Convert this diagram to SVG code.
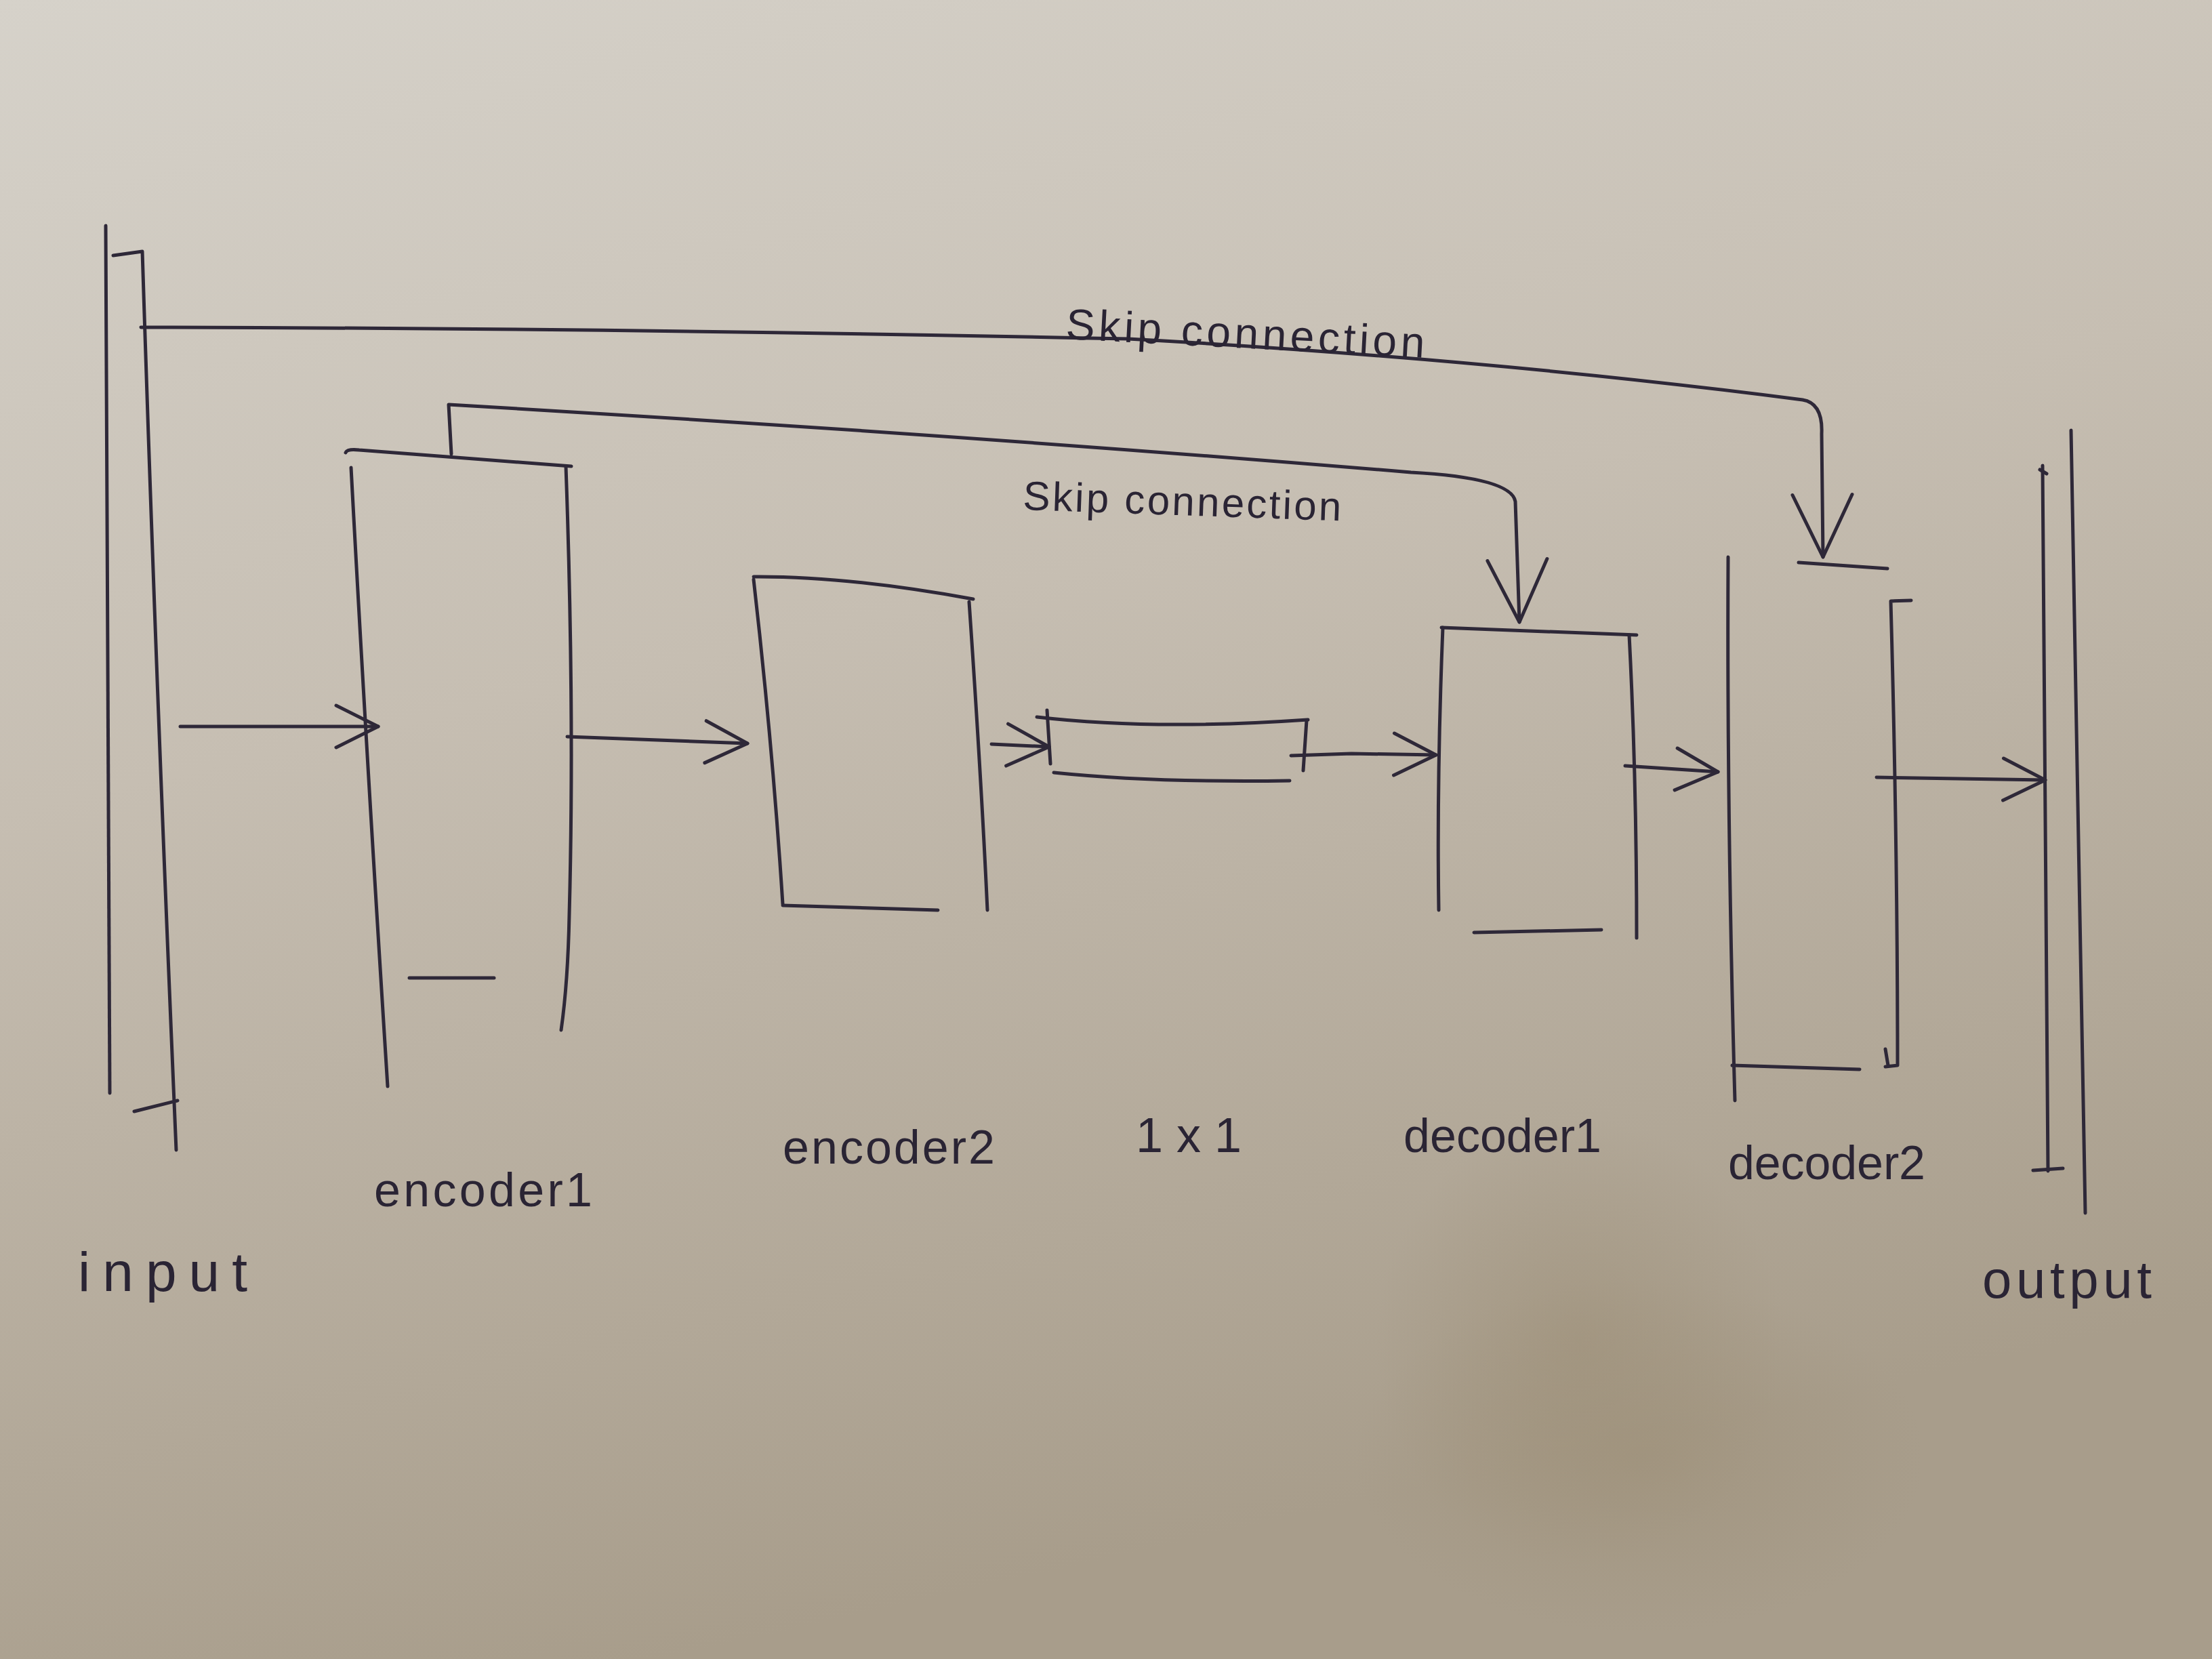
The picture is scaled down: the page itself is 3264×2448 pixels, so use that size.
<svg xmlns="http://www.w3.org/2000/svg" width="3264" height="2448" viewBox="0 0 3264 2448">
<defs>
<linearGradient id="paper" x1="0" y1="0" x2="0.3" y2="1">
<stop offset="0" stop-color="#d6d2ca"/>
<stop offset="0.45" stop-color="#c6beb2"/>
<stop offset="1" stop-color="#a89d8b"/>
</linearGradient>
<radialGradient id="stain" cx="0.5" cy="0.5" r="0.5">
<stop offset="0" stop-color="#9c8e76" stop-opacity="0.5"/>
<stop offset="1" stop-color="#9c8e76" stop-opacity="0"/>
</radialGradient>
<marker id="arrow" viewBox="0 0 70 70" refX="66" refY="35" markerWidth="70" markerHeight="70" markerUnits="userSpaceOnUse" orient="auto">
<path d="M4,4 L66,35 L4,66" fill="none" stroke="#2e2838" stroke-width="5" stroke-linecap="round" stroke-linejoin="round"/>
</marker>
<marker id="bigarrow" viewBox="0 0 100 100" refX="96" refY="50" markerWidth="100" markerHeight="100" markerUnits="userSpaceOnUse" orient="auto">
<path d="M4,6 L96,50 L4,94" fill="none" stroke="#2e2838" stroke-width="5" stroke-linecap="round" stroke-linejoin="round"/>
</marker>
</defs>
<style>
.ink{fill:none;stroke:#2e2838;stroke-width:5;stroke-linecap:round;stroke-linejoin:round}
.lbl{font-family:"Liberation Sans","DejaVu Sans",sans-serif;fill:#2a2434;font-weight:normal}
</style>
<rect x="0" y="0" width="3264" height="2448" fill="url(#paper)"/>
<ellipse cx="2330" cy="1980" rx="300" ry="330" fill="url(#stain)"/>
<ellipse cx="2420" cy="2150" rx="420" ry="260" fill="url(#stain)"/>

<g id="input">
<path class="ink" d="M156,333 L162,1613"/>
<path class="ink" d="M167,377 L210,371 Q230,1000 260,1697"/>
<path class="ink" d="M198,1640 L262,1624"/>
<text class="lbl" x="115" y="1905" font-size="82" textLength="250">input</text>
</g>

<g id="encoder1">
<path class="ink" d="M510,668 Q512,662 530,664 L843,688"/>
<path class="ink" d="M518,690 Q540,1100 572,1603"/>
<path class="ink" d="M835,688 Q848,1050 840,1350 Q838,1450 828,1520"/>
<path class="ink" d="M604,1443 L729,1443"/>
<text class="lbl" x="552" y="1780" font-size="70" textLength="322">encoder1</text>
</g>

<g id="encoder2">
<path class="ink" d="M1112,851 Q1250,850 1436,884"/>
<path class="ink" d="M1112,855 Q1140,1100 1155,1334"/>
<path class="ink" d="M1430,888 Q1448,1150 1457,1343"/>
<path class="ink" d="M1155,1336 L1384,1343"/>
<text class="lbl" x="1155" y="1717" font-size="70" textLength="313">encoder2</text>
</g>

<g id="conv1x1">
<path class="ink" d="M1530,1058 Q1700,1078 1930,1062"/>
<path class="ink" d="M1545,1048 L1550,1127"/>
<path class="ink" d="M1555,1140 Q1700,1155 1903,1152"/>
<path class="ink" d="M1928,1063 L1923,1137"/>
<text class="lbl" x="1676" y="1700" font-size="72" textLength="156">1x1</text>
</g>

<g id="decoder1">
<path class="ink" d="M2127,926 L2415,937"/>
<path class="ink" d="M2129,926 Q2120,1150 2123,1343"/>
<path class="ink" d="M2404,937 Q2415,1150 2415,1384"/>
<path class="ink" d="M2175,1376 L2363,1372"/>
<text class="lbl" x="2071" y="1700" font-size="70" textLength="292">decoder1</text>
</g>

<g id="decoder2">
<path class="ink" d="M2654,830 L2785,839"/>
<path class="ink" d="M2550,822 Q2548,1200 2560,1624"/>
<path class="ink" d="M2790,887 L2820,886 M2790,887 Q2800,1250 2800,1572 L2782,1574 M2782,1548 L2786,1572"/>
<path class="ink" d="M2556,1572 L2744,1578"/>
<text class="lbl" x="2550" y="1740" font-size="70" textLength="291">decoder2</text>
</g>

<g id="output">
<path class="ink" d="M3014,687 Q3018,1200 3022,1728"/>
<path class="ink" d="M3010,693 L3020,699"/>
<path class="ink" d="M3000,1727 L3044,1724"/>
<path class="ink" d="M3056,635 Q3066,1200 3077,1790"/>
<text class="lbl" x="2925" y="1915" font-size="78" textLength="250">output</text>
</g>

<g id="connectors">
<path class="ink" d="M266,1072 L558,1072" marker-end="url(#arrow)"/>
<path class="ink" d="M837,1087 L1103,1097" marker-end="url(#arrow)"/>
<path class="ink" d="M1463,1098 L1548,1102" marker-end="url(#arrow)"/>
<path class="ink" d="M1905,1115 L1994,1112 L2119,1114" marker-end="url(#arrow)"/>
<path class="ink" d="M2398,1130 L2535,1139" marker-end="url(#arrow)"/>
<path class="ink" d="M2769,1147 L3018,1151" marker-end="url(#arrow)"/>
<path class="ink" d="M208,483 Q900,484 1665,500 Q2200,530 2660,590 Q2690,595 2688,640 L2690,822" marker-end="url(#bigarrow)"/>
<path class="ink" d="M666,670 L662,597 Q1400,640 2082,697 Q2230,705 2236,740 L2242,918" marker-end="url(#bigarrow)"/>
<text class="lbl" x="1572" y="500" font-size="64" textLength="530" transform="rotate(3 1572 500)">Skip connection</text>
<text class="lbl" x="1509" y="752" font-size="60" textLength="470" transform="rotate(2 1509 752)">Skip connection</text>
</g>
</svg>
